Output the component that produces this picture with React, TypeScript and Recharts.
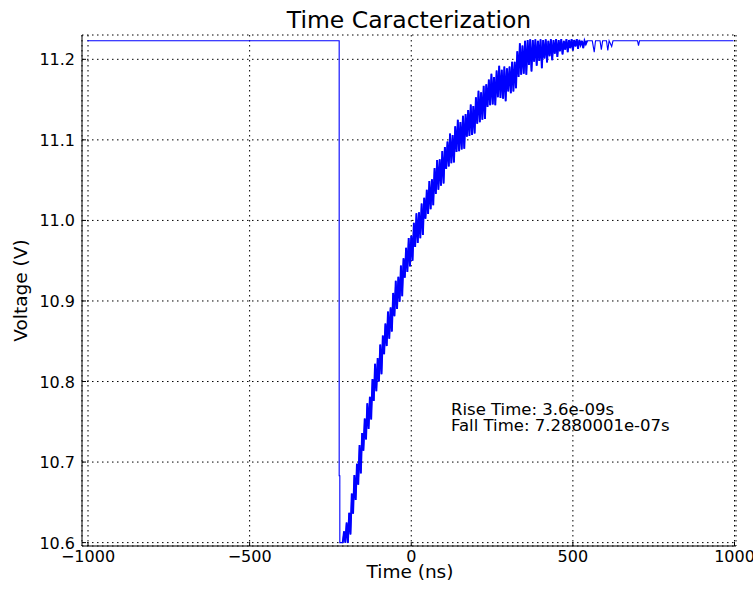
import React from 'react';
import { CartesianGrid, Line, LineChart, XAxis, YAxis } from 'recharts';

const timeNs = [
  -1002, -223, -223, -221, -221, -212, -208, -204, -200, -196, -192, -188, -184, -180, -176, -172,
  -168, -164, -160, -156, -152, -148, -144, -140, -136, -132, -128, -124, -120, -116, -112, -108,
  -104, -100, -96, -92, -88, -84, -80, -76, -72, -68, -64, -60, -56, -52, -48, -44,
  -40, -36, -32, -28, -24, -20, -16, -12, -8, -4, 0, 4, 8, 12, 16, 20,
  24, 28, 32, 36, 40, 44, 48, 52, 56, 60, 64, 68, 72, 76, 80, 84,
  88, 92, 96, 100, 104, 108, 112, 116, 120, 124, 128, 132, 136, 140, 144, 148,
  152, 156, 160, 164, 168, 172, 176, 180, 184, 188, 192, 196, 200, 204, 208, 212,
  216, 220, 224, 228, 232, 236, 240, 244, 248, 252, 256, 260, 264, 268, 272, 276,
  280, 284, 288, 292, 296, 300, 304, 308, 312, 316, 320, 324, 328, 332, 336, 340,
  344, 348, 352, 356, 360, 364, 368, 372, 376, 380, 384, 388, 392, 396, 400, 404,
  408, 412, 416, 420, 424, 428, 432, 436, 440, 444, 448, 452, 456, 460, 464, 468,
  472, 476, 480, 484, 488, 492, 496, 500, 504, 508, 512, 516, 520, 524, 528, 532,
  536, 540, 544, 560, 566, 570, 584, 588, 592, 604, 608, 612, 620, 624, 700, 703,
  706, 997,
];

const voltage = [
  11.223, 11.223, 10.683, 10.683, 10.6, 10.6, 10.614, 10.6, 10.625, 10.6, 10.637, 10.61, 10.661, 10.636, 10.684, 10.653,
  10.698, 10.672, 10.721, 10.686, 10.736, 10.714, 10.754, 10.728, 10.773, 10.741, 10.781, 10.753, 10.803, 10.776, 10.822, 10.788,
  10.829, 10.8, 10.846, 10.809, 10.857, 10.834, 10.872, 10.844, 10.887, 10.853, 10.892, 10.862, 10.91, 10.881, 10.925, 10.89,
  10.93, 10.899, 10.944, 10.906, 10.953, 10.929, 10.966, 10.936, 10.978, 10.943, 10.981, 10.95, 10.997, 10.967, 11.009, 10.972,
  11.01, 10.978, 11.021, 10.982, 11.028, 11.002, 11.038, 11.008, 11.049, 11.014, 11.051, 11.019, 11.065, 11.033, 11.075, 11.038,
  11.076, 11.043, 11.086, 11.046, 11.091, 11.064, 11.098, 11.067, 11.108, 11.071, 11.106, 11.072, 11.117, 11.085, 11.125, 11.086,
  11.122, 11.088, 11.13, 11.089, 11.132, 11.104, 11.137, 11.105, 11.144, 11.106, 11.142, 11.108, 11.153, 11.12, 11.161, 11.122,
  11.159, 11.125, 11.167, 11.126, 11.169, 11.141, 11.175, 11.143, 11.182, 11.144, 11.178, 11.143, 11.186, 11.153, 11.192, 11.152,
  11.187, 11.151, 11.191, 11.148, 11.189, 11.16, 11.191, 11.158, 11.197, 11.16, 11.197, 11.164, 11.21, 11.178, 11.22, 11.181,
  11.217, 11.182, 11.223, 11.181, 11.224, 11.193, 11.225, 11.185, 11.224, 11.197, 11.225, 11.192, 11.223, 11.198, 11.225, 11.189,
  11.224, 11.201, 11.225, 11.196, 11.223, 11.204, 11.225, 11.199, 11.224, 11.207, 11.225, 11.203, 11.224, 11.21, 11.225, 11.206,
  11.223, 11.212, 11.225, 11.209, 11.224, 11.214, 11.225, 11.211, 11.224, 11.216, 11.225, 11.213, 11.224, 11.218, 11.223, 11.214,
  11.223, 11.219, 11.223, 11.223, 11.209, 11.223, 11.223, 11.212, 11.223, 11.223, 11.211, 11.223, 11.216, 11.223, 11.223, 11.217,
  11.223, 11.223,
];

// the noisy recovery part (start/end times) is drawn a bit heavier, as the dense trace looks
const noisyFrom = -212;
const noisyTo = 544;

const xTicks = [-1000, -500, 0, 500, 1000];
const yTicks = [10.6, 10.7, 10.8, 10.9, 11.0, 11.1, 11.2];

const title = 'Time Caracterization';
const xLabel = 'Time (ns)';
const yLabel = 'Voltage (V)';
const notes = ['Rise Time: 3.6e-09s', 'Fall Time: 7.2880001e-07s'];

const FONT = '"DejaVu Sans", sans-serif';
const W = 753;
const H = 590;

const fmtX = (v: number) => (v < 0 ? `\u2212${Math.abs(v)}` : `${v}`);

// matplotlib style: tick marks point into the plot
const BottomTick = (p: any) => (
  <g>
    <line x1={p.x} x2={p.x} y1={p.y} y2={p.y - 4} stroke="#000" />
    <text x={p.x} y={p.y + 16} textAnchor="middle" fontSize={16} fontFamily={FONT} fill="#000">
      {fmtX(p.payload.value)}
    </text>
  </g>
);
const LeftTick = (p: any) => (
  <g>
    <line x1={p.x} x2={p.x + 4} y1={p.y} y2={p.y} stroke="#000" />
    <text x={p.x - 7} y={p.y + 6} textAnchor="end" fontSize={16} fontFamily={FONT} fill="#000">
      {p.payload.value.toFixed(1)}
    </text>
  </g>
);
const TopTick = (p: any) => <line x1={p.x} x2={p.x} y1={p.y} y2={p.y + 4} stroke="#000" />;
const RightTick = (p: any) => <line x1={p.x} x2={p.x - 4} y1={p.y} y2={p.y} stroke="#000" />;

export default function App() {
  const points = timeNs.map((t, i) => ({
    t,
    v: voltage[i],
    band: t >= noisyFrom && t <= noisyTo ? voltage[i] : undefined,
  }));
  const xDomain: [number, number] = [-1018.6, 1004.6];
  const yDomain: [number, number] = [10.5958, 11.2302];

  return (
    <div style={{ position: 'absolute', left: 0, top: 0, width: W, height: H, background: '#fff' }}>
      <LineChart width={W} height={H} data={points} margin={{ top: 35, right: 17, bottom: 0, left: 0 }}>
        <CartesianGrid stroke="#000" strokeDasharray="1.5 3.5" strokeWidth={1} />
        <XAxis
          dataKey="t"
          type="number"
          domain={xDomain}
          ticks={xTicks}
          allowDataOverflow
          height={44}
          tickSize={0}
          tickMargin={0}
          tickLine={false}
          tick={BottomTick}
          axisLine={{ stroke: '#000' }}
        />
        <XAxis
          xAxisId="top"
          orientation="top"
          dataKey="t"
          type="number"
          domain={xDomain}
          ticks={xTicks}
          allowDataOverflow
          height={0}
          tickSize={0}
          tickMargin={0}
          tickLine={false}
          tick={TopTick}
          axisLine={{ stroke: '#000' }}
        />
        <YAxis
          type="number"
          domain={yDomain}
          ticks={yTicks}
          allowDataOverflow
          width={82}
          tickSize={0}
          tickMargin={0}
          tickLine={false}
          tick={LeftTick}
          axisLine={{ stroke: '#000' }}
        />
        <YAxis
          yAxisId="right"
          orientation="right"
          type="number"
          domain={yDomain}
          ticks={yTicks}
          allowDataOverflow
          width={0}
          tickSize={0}
          tickMargin={0}
          tickLine={false}
          tick={RightTick}
          axisLine={{ stroke: '#000' }}
        />
        <Line
          type="linear"
          dataKey="v"
          stroke="#0000ff"
          strokeWidth={1.1}
          dot={false}
          isAnimationActive={false}
        />
        <Line
          type="linear"
          dataKey="band"
          stroke="#0000ff"
          strokeWidth={1.9}
          dot={false}
          isAnimationActive={false}
        />
      </LineChart>
      <svg
        width={W}
        height={H}
        style={{ position: 'absolute', left: 0, top: 0, pointerEvents: 'none' }}
        fontFamily={FONT}
      >
        <text x={409} y={28} textAnchor="middle" fontSize={23.5} fill="#000">
          {title}
        </text>
        <text x={410} y={578} textAnchor="middle" fontSize={18.5} fill="#000">
          {xLabel}
        </text>
        <text
          x={26.5}
          y={290.5}
          textAnchor="middle"
          fontSize={18.5}
          fill="#000"
          transform="rotate(-90, 26.5, 290.5)"
        >
          {yLabel}
        </text>
        {notes.map((n, i) => (
          <text key={n} x={451} y={415 + i * 15.7} fontSize={16.5} fill="#000">
            {n}
          </text>
        ))}
      </svg>
    </div>
  );
}
